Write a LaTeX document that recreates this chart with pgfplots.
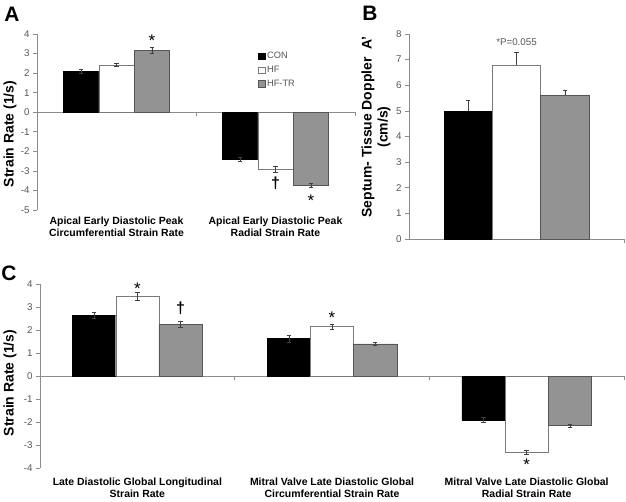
\documentclass[border=0pt]{standalone}
\usepackage{fontspec}
\setmainfont{Liberation Sans}
\usepackage{pgfplots}
\pgfplotsset{compat=1.18}
\definecolor{hftr}{HTML}{939393}
\definecolor{axgray}{HTML}{8C8C8C}
\definecolor{ticktext}{HTML}{555555}
\definecolor{errc}{HTML}{404040}
\definecolor{hfedge}{HTML}{7A7A7A}
\definecolor{hftredge}{HTML}{555555}
\newcommand\ann{\fontsize{17}{17}\selectfont}
\newcommand\dagfont{\fontsize{16}{16}\selectfont\bfseries}
\pgfplotsset{
  panel/.style={
    scale only axis, anchor=south west,
    axis y line=left, axis x line=middle,
    axis line style={-, draw=axgray, line width=0.6pt},
    tick style={draw=axgray, line width=0.6pt},
    major tick length=4bp,
    ytick align=outside, xtick align=outside,
    yticklabel style={font=\fontsize{9.8}{10}\selectfont, text=ticktext},
    /pgf/number format/assume math mode=true,
    xticklabels={},
    hide obscured y ticks=false, hide obscured x ticks=false,
    clip=false, ybar, bar width=0.222,
  },
  con/.style={fill=black, draw=black, bar shift=-0.222},
  hf/.style={fill=white, draw=hfedge, bar shift=0},
  hftr/.style={fill=hftr, draw=hftredge, bar shift=0.222},
  eb/.style={error bars/.cd, y dir=#1, y explicit,
    error bar style={errc, line width=0.5pt},
    error mark options={rotate=90, mark size=2.2bp, errc, line width=0.5pt}},
  eb/.default=both,
}
\tikzset{
  catlab/.style={align=center, anchor=north, font=\fontsize{10.5}{11.5}\selectfont\bfseries, inner sep=0pt},
  ylab/.style={rotate=90, align=center, font=\fontsize{14}{16}\selectfont\bfseries},
  panlab/.style={font=\fontsize{21}{21}\selectfont\bfseries},
}
\begin{document}
\begin{tikzpicture}
\useasboundingbox (0,0) rectangle (626bp,502bp);
% ---------------- Panel A
\begin{axis}[panel, at={(37bp,292bp)}, width=318bp, height=176bp,
  xmin=-0.5, xmax=1.5, ymin=-5, ymax=4, ytick={-5,-4,...,4}, xtick={0.5,1.5},
  legend style={draw=none, fill=none, at={(rel axis cs:0.695,0.91)}, anchor=north west,
    font=\fontsize{9.3}{10}\selectfont\color{ticktext}, row sep=2bp, inner sep=0pt,
    cells={anchor=west}},
  legend cell align=left,
  legend image code/.code={\draw[#1] (0bp,-3.2bp) rectangle (6.5bp,3.2bp);},
]
\addplot[con, eb] coordinates {(0,2.1) +- (0,0.1) (1,-2.4) +- (0,0.1)};
\addlegendentry{CON}
\addplot[hf, eb] coordinates {(0,2.42) +- (0,0.08) (1,-2.93) +- (0,0.15)};
\addlegendentry{HF}
\addplot[hftr, eb] coordinates {(0,3.15) +- (0,0.15) (1,-3.74) +- (0,0.1)};
\addlegendentry{HF-TR}
\node[font=\ann, yshift=-3.5bp] at (axis cs:0.222,3.85) {*};
\node[font=\dagfont] at (axis cs:1,-3.63) {†};
\node[font=\ann, yshift=-3.5bp] at (axis cs:1.222,-4.35) {*};
\node[catlab, yshift=-7bp] at (axis cs:0,-5) {Apical Early Diastolic Peak\\Circumferential Strain Rate};
\node[catlab, yshift=-7bp] at (axis cs:1,-5) {Apical Early Diastolic Peak\\Radial Strain Rate};
\end{axis}
% ---------------- Panel B
\begin{axis}[panel, at={(409bp,263bp)}, width=215bp, height=205bp,
  xmin=-0.5, xmax=0.5, ymin=0, ymax=8, ytick={0,1,...,8}, xtick={0.5}, bar width=0.225]
\addplot[con, bar shift=-0.225, eb=plus] coordinates {(0,5.0) +- (0,0.4)};
\addplot[hf, eb=plus] coordinates {(0,6.8) +- (0,0.5)};
\addplot[hftr, bar shift=0.225, eb=plus] coordinates {(0,5.6) +- (0,0.2)};
\node[font=\fontsize{9.8}{10}\selectfont, text=ticktext] at (axis cs:0,7.7) {*P=0.055};
\end{axis}
% ---------------- Panel C
\begin{axis}[panel, at={(40bp,34bp)}, width=584bp, height=184bp,
  xmin=-0.5, xmax=2.5, ymin=-4, ymax=4, ytick={-4,-3,...,4}, xtick={0.5,1.5,2.5}]
\addplot[con, eb] coordinates {(0,2.65) +- (0,0.12) (1,1.63) +- (0,0.15) (2,-1.91) +- (0,0.1)};
\addplot[hf, eb] coordinates {(0,3.45) +- (0,0.17) (1,2.15) +- (0,0.1) (2,-3.32) +- (0,0.08)};
\addplot[hftr, eb] coordinates {(0,2.24) +- (0,0.12) (1,1.4) +- (0,0.07) (2,-2.16) +- (0,0.07)};
\node[font=\ann, yshift=-3.5bp] at (axis cs:0,3.96) {*};
\node[font=\dagfont] at (axis cs:0.222,2.96) {†};
\node[font=\ann, yshift=-3.5bp] at (axis cs:1,2.7) {*};
\node[font=\ann, yshift=-3.5bp] at (axis cs:2,-3.7) {*};
\node[catlab, yshift=-10bp] at (axis cs:0,-4) {Late Diastolic Global Longitudinal\\Strain Rate};
\node[catlab, yshift=-10bp] at (axis cs:1,-4) {Mitral Valve Late Diastolic Global\\Circumferential Strain Rate};
\node[catlab, yshift=-10bp] at (axis cs:2,-4) {Mitral Valve Late Diastolic Global\\Radial Strain Rate};
\end{axis}
% ---------------- labels
\node[ylab] at (10bp,368bp) {Strain Rate (1/s)};
\node[ylab] at (376bp,375bp) {Septum- Tissue Doppler\ \ A'\\(cm/s)};
\node[ylab] at (10bp,119bp) {Strain Rate (1/s)};
\node[panlab] at (12bp,488bp) {A};
\node[panlab] at (370bp,489bp) {B};
\node[panlab] at (9bp,229bp) {C};
\end{tikzpicture}
\end{document}
